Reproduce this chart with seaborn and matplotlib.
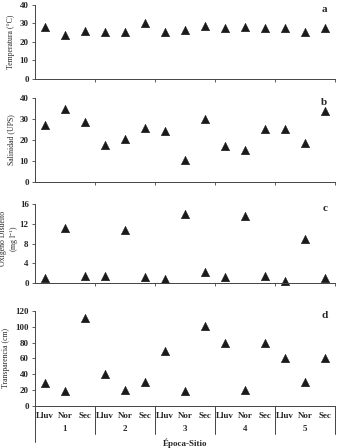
import matplotlib
matplotlib.use("Agg")
from matplotlib import pyplot as plt
import matplotlib.transforms as mtransforms
import numpy as np
import pandas as pd
import seaborn as sns

# Época-Sitio categories
sites = ["1", "2", "3", "4", "5"]
seasons = ["Lluv", "Nor", "Sec"]

temperatura = [28.0, 24.0, 26.0, 25.5, 25.5, 30.5, 25.6, 26.5, 28.9, 27.8, 28.0, 27.3, 27.3, 25.3, 27.8]
salinidad = [26.9, 34.7, 28.5, 17.5, 20.6, 25.7, 24.5, 10.5, 30.1, 17.2, 15.3, 25.2, 25.2, 18.5, 33.6]
oxigeno = [0.95, 11.2, 1.4, 1.4, 10.8, 1.3, 0.75, 14.0, 2.3, 1.2, 13.5, 1.5, 0.5, 9.0, 1.0]
transparencia = [29, 19, 111, 40, 20, 30, 70, 19, 101, 80, 20, 80, 61, 30, 61]

df = pd.DataFrame({
    "sitio": np.repeat(sites, len(seasons)),
    "epoca": seasons * len(sites),
    "temperatura": temperatura,
    "salinidad": salinidad,
    "oxigeno": oxigeno,
    "transparencia": transparencia,
})
df["pos"] = np.arange(len(df))

sns.set_style("ticks")
plt.rcParams["font.family"] = ["Liberation Serif", "DejaVu Serif"]
plt.rcParams["mathtext.fontset"] = "custom"
plt.rcParams["mathtext.rm"] = "Liberation Serif"

fig = plt.figure(figsize=(3.39, 4.48), dpi=100)

panels = [
    # column, ylabel, yticks, letter, rect
    ("temperatura", "Temperatura (°C)", [0, 10, 20, 30, 40], "a", [0.1032, 0.8237, 0.885, 0.1652]),
    ("salinidad", "Salinidad (UPS)", [0, 10, 20, 30, 40], "b", [0.1032, 0.5938, 0.885, 0.1875]),
    ("oxigeno", "Oxígeno Disuelto\n(mg l$^{-1}$)", [0, 4, 8, 12, 16], "c", [0.1032, 0.3683, 0.885, 0.1763]),
    ("transparencia", "Transparencia (cm)", [0, 20, 40, 60, 80, 100, 120], "d", [0.1032, 0.0938, 0.885, 0.2121]),
]

spine_col = "#444444"
bounds = [2.5, 5.5, 8.5, 11.5, 14.5]

for col, ylab, yt, letter, rect in panels:
    ax = fig.add_axes(rect)
    sns.scatterplot(data=df, x="pos", y=col, ax=ax, marker="^", s=38,
                    color="#1a1a1a", edgecolor="#1a1a1a", linewidth=0.3, clip_on=False)
    ax.set_xlim(-0.5, 14.5)
    ax.set_ylim(yt[0], yt[-1])
    ax.set_yticks(yt)
    ax.set_yticklabels([str(v) for v in yt], fontsize=6.5, fontweight="bold")
    ax.set_xticks(bounds)
    ax.set_xticklabels([])
    ax.tick_params(axis="both", length=2.5, width=0.6, color=spine_col, pad=2)
    ax.set_xlabel("")
    if "\n" in ylab:
        ax.set_ylabel(ylab, fontsize=5.6, linespacing=0.95, va="center")
        ax.yaxis.set_label_coords(-0.083, 0.56)
    else:
        ax.set_ylabel(ylab, fontsize=5.6, labelpad=3.5)
    sns.despine(ax=ax)
    for s in ["left", "bottom"]:
        ax.spines[s].set_color(spine_col)
        ax.spines[s].set_linewidth(0.7)
    ax.text(0.975, 1.0, letter, transform=ax.transAxes, ha="right", va="top",
            fontsize=8, fontweight="bold")

# category axis under the last panel
trans = mtransforms.blended_transform_factory(ax.transData, ax.transAxes)
ax.tick_params(axis="x", length=0)
for i, ep in enumerate(df["epoca"]):
    ax.text(i, -0.06, ep, transform=trans, ha="center", va="top", fontsize=6.5, fontweight="bold")
for k, s in enumerate(sites):
    ax.text(3 * k + 1, -0.2, s, transform=trans, ha="center", va="top", fontsize=6.5, fontweight="bold")
for b in [-0.5] + bounds:
    low = -0.38 if b == -0.5 else -0.295
    ax.plot([b, b], [0, low], transform=trans, color=spine_col, lw=0.7, clip_on=False)
ax.text(7, -0.34, "Época-Sitio", transform=trans, ha="center", va="top", fontsize=6.5, fontweight="bold")

fig.savefig("out.png", dpi=100)
